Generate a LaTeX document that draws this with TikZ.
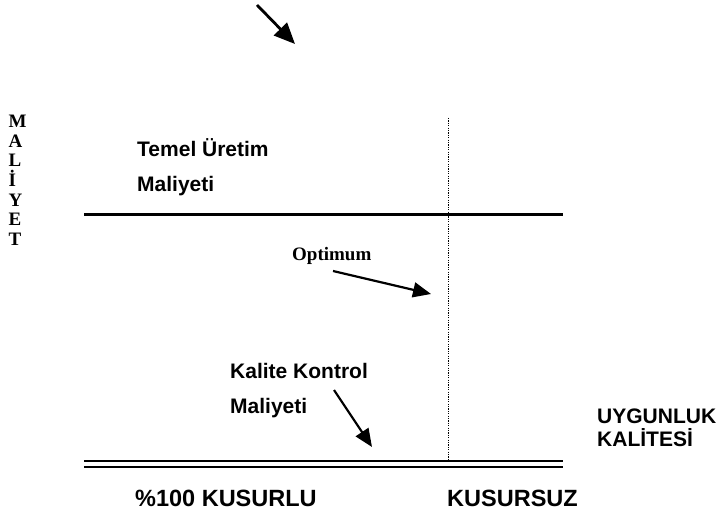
\documentclass[tikz,border=0pt]{standalone}
\usepackage{fontspec}
\setmainfont{Liberation Sans}
\newfontfamily\timesfont{Liberation Serif}
\usetikzlibrary{arrows.meta}
\begin{document}
\begin{tikzpicture}[x=1pt,y=-1pt,
  lbl/.style={inner sep=0pt,anchor=base west,font=\fontsize{21}{26}\selectfont\bfseries},
  biglbl/.style={inner sep=0pt,anchor=base west,font=\fontsize{23.5}{28}\selectfont\bfseries},
  serifl/.style={inner sep=0pt,anchor=base west,font=\timesfont\fontsize{19}{19.5}\selectfont\bfseries},
  pointer/.style={line width=2.2pt,-{Triangle[length=18pt,width=15pt]}},
  costline/.style={line width=3pt}]
\useasboundingbox (0,0) rectangle (719,518);

% vertical axis title
\node[inner sep=0pt,font=\timesfont\fontsize{19}{19.6}\selectfont\bfseries,align=left,anchor=north west] (axis) at (8.5,115) {M\\A\\L\\İ\\Y\\E\\T};

% cost labels
\node[lbl] (temel1) at (137,157) {Temel Üretim};
\node[lbl] (temel2) at (137,192) {Maliyeti};
\node[serifl] (opt) at (292,261) {Optimum};
\node[lbl] (kk1) at (230,378) {Kalite Kontrol};
\node[lbl] (kk2) at (230,413) {Maliyeti};
\node[lbl] (uyg1) at (597,423) {UYGUNLUK};
\node[lbl] (uyg2) at (597,446) {KALİTESİ};
\node[biglbl] (kus1) at (135,506) {\%100 KUSURLU};
\node[biglbl] (kus2) at (447,506) {KUSURSUZ};

% reference points
\coordinate (tl) at (84,215);
\coordinate (tr) at (563,215);
\coordinate (b1l) at (84,461);
\coordinate (b1r) at (563,461);
\coordinate (b2l) at (84,467);
\coordinate (b2r) at (563,467);
\coordinate (dtop) at (448,118);
\coordinate (dbot) at (448,460);
\coordinate (a0) at (257,5);
\coordinate (a1) at (295,44);
\coordinate (o0) at (333,271);
\coordinate (o1) at (431,294);
\coordinate (k0) at (334,390);
\coordinate (k1) at (372,447);

% lines
\draw[costline] (tl) -- (tr);
\draw[line width=2pt] (b1l) -- (b1r);
\draw[line width=2pt] (b2l) -- (b2r);
\draw[line width=1pt,dash pattern=on 1.2pt off 1.2pt] (dtop) -- (dbot);

% arrows
\draw[pointer,line width=2.8pt,-{Triangle[length=21pt,width=18pt]}] (a0) -- (a1);
\draw[pointer] (o0) -- (o1);
\draw[pointer] (k0) -- (k1);
\end{tikzpicture}
\end{document}
